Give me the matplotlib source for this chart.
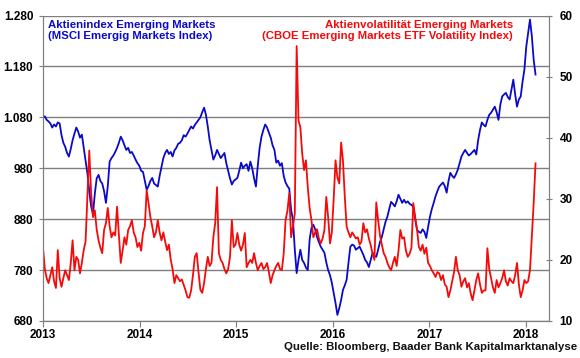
import numpy as np
import matplotlib
matplotlib.use("Agg")
import matplotlib.pyplot as plt
from matplotlib.ticker import FuncFormatter, FixedLocator

plt.rcParams['font.family'] = ['Liberation Sans', 'DejaVu Sans']
plt.rcParams['font.weight'] = 'bold'

# weekly values, first week of Jan 2013 to early Feb 2018
msci_em = [
    1079, 1082, 1075, 1072, 1068, 1060, 1066, 1062, 1070, 1068,
    1045, 1030, 1022, 1010, 1003, 1018, 1035, 1048, 1060, 1052,
    1040, 1046, 1020, 995, 970, 935, 905, 890, 930, 960,
    967, 955, 950, 935, 912, 945, 993, 1000, 1005, 1012,
    1020, 1030, 1042, 1035, 1025, 1016, 1020, 1010, 1012, 1005,
    997, 990, 985, 975, 973, 955, 938, 945, 955, 961,
    950, 947, 944, 965, 983, 1000, 1010, 1016, 1008, 1012,
    1003, 1015, 1020, 1028, 1030, 1035, 1045, 1042, 1048, 1055,
    1062, 1058, 1065, 1070, 1075, 1080, 1090, 1099, 1085, 1062,
    1035, 1016, 997, 1005, 1016, 1008, 1000, 1005, 1010, 990,
    975, 960, 948, 955, 958, 961, 975, 991, 980, 985,
    988, 975, 993, 980, 960, 944, 985, 1020, 1042, 1055,
    1066, 1060, 1050, 1040, 1025, 1016, 991, 995, 985, 990,
    965, 952, 945, 940, 898, 879, 820, 774, 800, 820,
    800, 794, 785, 780, 840, 863, 869, 860, 845, 835,
    826, 820, 814, 795, 780, 770, 755, 735, 715, 692,
    705, 721, 741, 750, 761, 795, 826, 830, 828, 820,
    823, 826, 818, 810, 800, 795, 786, 800, 814, 808,
    806, 820, 835, 845, 860, 875, 885, 900, 914, 910,
    905, 915, 928, 920, 912, 918, 912, 915, 910, 908,
    904, 880, 859, 855, 853, 860, 855, 843, 865, 885,
    900, 912, 925, 935, 944, 948, 952, 945, 932, 955,
    971, 965, 961, 968, 977, 990, 1003, 1010, 1016, 1010,
    1005, 1008, 1012, 1016, 1007, 1035, 1055, 1070, 1065, 1062,
    1075, 1085, 1089, 1095, 1101, 1090, 1075, 1105, 1121, 1125,
    1128, 1120, 1115, 1135, 1154, 1125, 1101, 1115, 1121, 1150,
    1174, 1219, 1245, 1272, 1240, 1193, 1164,
]

vxeem = [
    22.0, 18.5, 17.0, 16.2, 17.5, 18.8, 16.5, 15.4, 21.6, 17.0,
    15.6, 17.0, 18.3, 17.5, 16.7, 19.5, 23.2, 18.3, 20.5, 20.0,
    17.8, 19.5, 21.6, 23.0, 30.5, 37.9, 31.0, 27.0, 28.1, 25.0,
    23.2, 22.0, 21.1, 24.9, 26.0, 28.5, 25.5, 23.7, 24.5, 24.0,
    28.7, 24.0, 19.5, 21.5, 23.7, 22.5, 24.9, 25.5, 26.5, 24.5,
    23.7, 22.1, 22.8, 21.5, 24.4, 25.5, 31.4, 29.3, 27.0, 25.5,
    23.7, 24.5, 26.5, 24.5, 23.2, 24.5, 23.0, 21.6, 22.5, 20.0,
    18.5, 16.2, 17.5, 17.0, 16.5, 16.8, 15.9, 15.0, 13.9, 13.8,
    15.0, 17.5, 20.5, 21.1, 18.0, 15.1, 14.6, 16.2, 18.5, 20.5,
    19.0, 19.5, 23.7, 26.0, 31.9, 21.1, 20.0, 19.5, 18.5, 17.8,
    18.5, 20.5, 26.5, 22.1, 22.5, 24.4, 22.5, 21.5, 22.5, 24.4,
    18.8, 19.5, 20.0, 19.5, 21.1, 19.5, 18.3, 19.0, 19.5, 18.5,
    18.8, 19.5, 18.0, 16.2, 17.5, 18.3, 19.0, 19.5, 18.5, 18.3,
    21.0, 26.5, 28.0, 30.9, 23.7, 25.5, 27.6, 55.0, 42.8, 41.7,
    37.4, 34.7, 36.3, 31.9, 28.5, 26.5, 23.7, 24.5, 25.0, 23.5,
    22.7, 23.5, 24.9, 30.3, 27.0, 22.7, 24.5, 30.0, 36.3, 33.5,
    32.5, 39.2, 36.3, 30.3, 25.4, 24.5, 23.7, 24.5, 24.0, 23.5,
    23.7, 22.5, 23.0, 26.0, 24.5, 25.0, 23.5, 22.4, 21.0, 20.0,
    29.4, 26.5, 24.0, 22.5, 21.1, 20.5, 19.5, 18.8, 18.3, 19.5,
    20.5, 19.0, 21.5, 24.9, 23.5, 23.7, 21.5, 20.5, 21.0, 22.0,
    29.3, 27.0, 25.0, 22.1, 21.5, 22.5, 21.0, 22.0, 19.5, 19.0,
    18.3, 17.8, 17.2, 18.0, 17.8, 16.7, 17.5, 16.0, 15.6, 13.9,
    15.0, 16.5, 18.0, 20.5, 18.3, 17.5, 15.6, 16.5, 17.0, 15.5,
    16.2, 14.5, 13.4, 15.0, 16.7, 17.8, 16.0, 14.6, 15.0, 15.0,
    21.9, 18.5, 17.0, 15.5, 14.6, 16.7, 15.5, 16.2, 17.0, 18.3,
    16.5, 15.8, 17.0, 16.5, 16.2, 17.5, 19.5, 16.0, 13.9, 15.0,
    16.7, 16.2, 16.5, 18.3, 23.7, 29.3, 35.8,
]

years = [2013, 2014, 2015, 2016, 2017, 2018]
left_ticks = [680, 780, 880, 980, 1080, 1180, 1280]
right_ticks = [10, 20, 30, 40, 50, 60]

n = min(len(msci_em), len(vxeem))
t = 2013 + np.arange(n) * 7 / 365.25

blue = '#0a0ac8'
red = '#f50a0a'
grid_c = '#7f7f7f'

fig = plt.figure(figsize=(5.8, 3.58), dpi=100)
ax = fig.add_axes([0.0741, 0.1034, 0.8729, 0.8533])
ax2 = ax.twinx()

ax.plot(t, msci_em[:n], color=blue, lw=1.3)
ax2.plot(t, vxeem[:n], color=red, lw=1.3)

ax.set_xlim(2013.0, 2018.24)
ax.set_ylim(680, 1280)
ax2.set_ylim(10, 60)

ax.yaxis.set_major_locator(FixedLocator(left_ticks))
ax.yaxis.set_major_formatter(FuncFormatter(lambda v, p: f"{int(v):,}".replace(",", ".")))
ax.xaxis.set_major_locator(FixedLocator(years))
ax.xaxis.set_major_formatter(FuncFormatter(lambda v, p: f"{int(round(v))}"))
ax2.yaxis.set_major_locator(FixedLocator(right_ticks))

ax.grid(axis='y', color=grid_c, lw=1.0)
ax.set_axisbelow(True)

for a in (ax, ax2):
    for s in a.spines.values():
        s.set_color(grid_c)
    a.spines['top'].set_visible(False)
ax.tick_params(axis='y', direction='out', length=3, color=grid_c, labelsize=8.5, pad=4)
ax.tick_params(axis='x', direction='out', length=4, color=grid_c, labelsize=8.5, pad=2)
ax2.tick_params(axis='y', direction='inout', length=5, color=grid_c, labelsize=8.5, pad=5)

ax.text(0.01, 0.985, "Aktienindex Emerging Markets\n(MSCI Emergig Markets Index)",
        transform=ax.transAxes, color=blue, fontsize=8.2, fontweight='bold',
        va='top', ha='left', linespacing=1.1)
ax.text(0.928, 0.985, "Aktienvolatilität Emerging Markets\n(CBOE Emerging Markets ETF Volatility Index)",
        transform=ax.transAxes, color=red, fontsize=8.2, fontweight='bold',
        va='top', ha='right', multialignment='right', linespacing=1.1)
fig.text(0.995, 0.03, "Quelle: Bloomberg, Baader Bank Kapitalmarktanalyse",
         ha='right', va='center', fontsize=8.2, fontweight='bold', color='#111111')

fig.savefig("out.png", dpi=100)
